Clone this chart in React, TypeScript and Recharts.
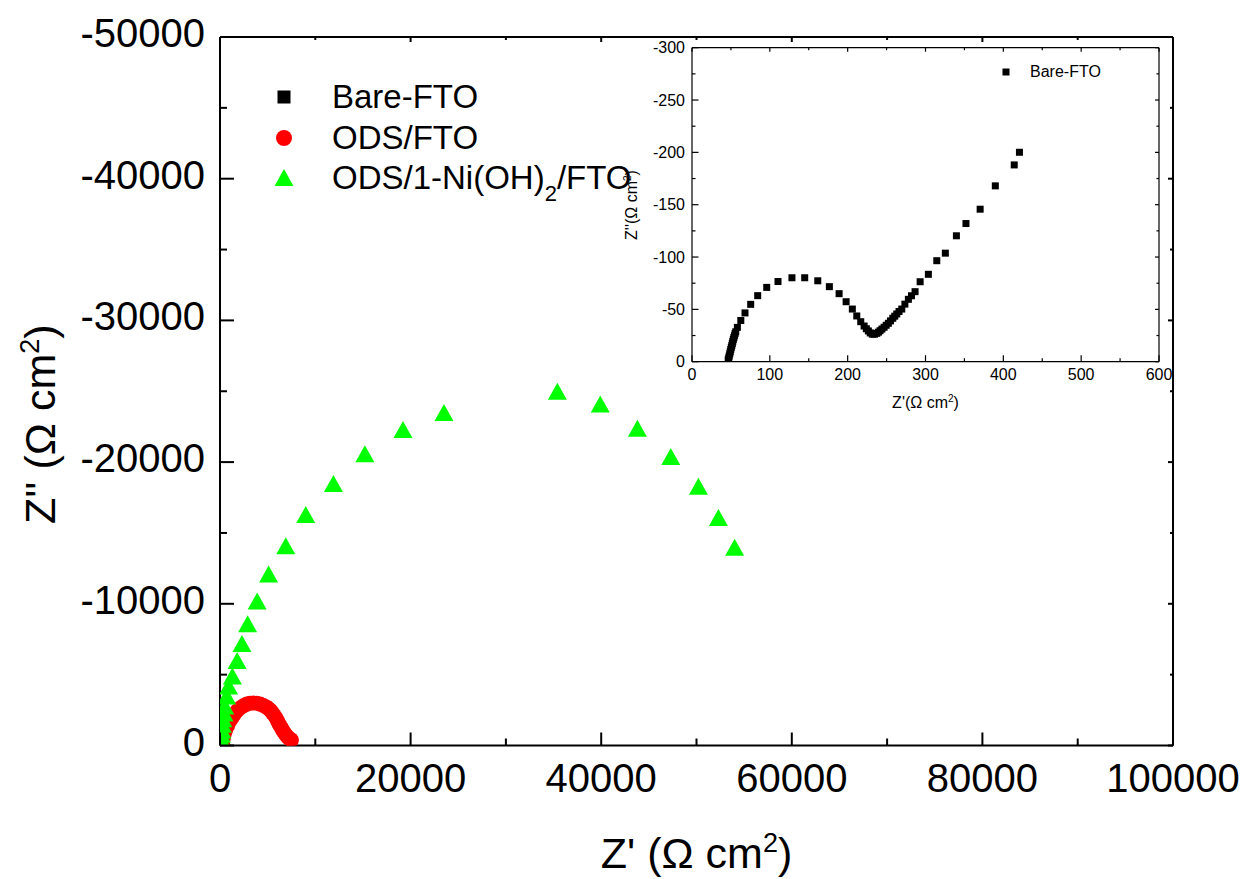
import React from 'react';
import { ScatterChart, Scatter, XAxis, YAxis, Legend } from 'recharts';

const FONT = '"Liberation Sans", Arial, Helvetica, sans-serif';

// Z' and Z'' (Ohm cm2)
const bareZre = [46.5, 47.2, 47.8, 48.5, 49.2, 49.8, 50.5, 51.2, 51.8, 52.4, 53.1, 53.8, 54.5, 55.3, 56.2, 58.3, 62.7, 68.1, 75.4, 84.4, 96.0, 110.5, 128.4, 144.8, 161.6, 176.5, 189.0, 198.0, 206.0, 211.7, 216.8, 221.1, 224.0, 226.6, 229.0, 231.7, 234.5, 237.4, 239.5, 241.6, 244.0, 246.8, 249.5, 252.3, 255.0, 258.0, 260.5, 263.1, 266.0, 269.5, 273.5, 278.0, 282.0, 286.6, 293.1, 303.7, 314.5, 325.5, 339.7, 352.0, 370.2, 389.7, 414.0, 420.7];
const bareZim = [-1.6, -3.5, -5.4, -7.5, -9.5, -11.6, -13.7, -15.6, -17.5, -19.4, -21.3, -23.0, -24.8, -26.7, -28.6, -32.8, -39.4, -46.6, -54.8, -63.1, -71.0, -76.6, -80.2, -80.2, -77.3, -71.7, -65.0, -57.3, -50.3, -43.7, -38.2, -34.1, -31.5, -29.4, -27.5, -26.3, -26.3, -27.1, -28.2, -29.6, -31.2, -32.9, -34.8, -36.7, -39.0, -41.5, -43.5, -45.6, -48.0, -50.3, -55.0, -59.6, -63.0, -66.9, -76.4, -83.5, -96.5, -103.7, -120.3, -132.0, -145.7, -168.0, -188.0, -200.1];

const odsZre = [250, 350, 450, 600, 800, 1000, 1250, 1500, 1800, 2100, 2450, 2800, 3150, 3500, 3850, 4200, 4500, 4800, 5050, 5300, 5500, 5700, 5900, 6050, 6200, 6350, 6500, 6650, 6800, 6950, 7100, 7250, 7400, 7500];
const odsZim = [-200, -500, -800, -1100, -1400, -1700, -1950, -2200, -2450, -2650, -2800, -2920, -2980, -3000, -2980, -2920, -2840, -2740, -2620, -2480, -2300, -2120, -1920, -1720, -1520, -1340, -1170, -1000, -850, -720, -600, -500, -420, -380];

const niZre = [80, 100, 150, 200, 250, 300, 420, 500, 700, 900, 1300, 1800, 2300, 2900, 3900, 5100, 6900, 9000, 11900, 15200, 19200, 23500, 35400, 39900, 43800, 47300, 50200, 52300, 54000];
const niZim = [-200, -400, -700, -1000, -1400, -1800, -2200, -2700, -3400, -4100, -4800, -5900, -7100, -8500, -10100, -12000, -14000, -16200, -18400, -20500, -22200, -23400, -24900, -24000, -22300, -20300, -18200, -16000, -13900];

// ticks (majors get labels)
const mainXTicks = [0, 10000, 20000, 30000, 40000, 50000, 60000, 70000, 80000, 90000, 100000];
const mainYTicks = [-50000, -45000, -40000, -35000, -30000, -25000, -20000, -15000, -10000, -5000, 0];
const insetXTicks = [0, 50, 100, 150, 200, 250, 300, 350, 400, 450, 500, 550, 600];
const insetYTicks = [-300, -275, -250, -225, -200, -175, -150, -125, -100, -75, -50, -25, 0];

const toPoints = (xs: number[], ys: number[]) => xs.map((x, i) => ({ x, y: ys[i] }));
const bareData = toPoints(bareZre, bareZim);
const odsData = toPoints(odsZre, odsZim);
const niData = toPoints(niZre, niZim);

// markers
const square = (s: number, color: string) => (p: any) => (
    <rect x={p.cx - s / 2} y={p.cy - s / 2} width={s} height={s} fill={color} />
);
const dot = (r: number, color: string) => (p: any) => <circle cx={p.cx} cy={p.cy} r={r} fill={color} />;
const triangle = (w: number, h: number, color: string) => (p: any) => (
    <polygon
        points={`${p.cx},${p.cy - h * 0.58} ${p.cx - w / 2},${p.cy + h * 0.42} ${p.cx + w / 2},${p.cy + h * 0.42}`}
        fill={color}
    />
);
const nothing = () => <g />;

type TickOpts = {
    side: 'bottom' | 'left' | 'top' | 'right';
    every: number;
    major: number;
    minor: number;
    stroke: number;
    font?: number;
    gap?: number;
    shift?: number;
};

// inward ticks, labels only on majors
const makeTick = (o: TickOpts) => (props: any) => {
    const { x, y, payload } = props;
    const v = payload.value;
    const isMajor = Math.abs(v % o.every) < 1e-6;
    const len = isMajor ? o.major : o.minor;
    let x2 = x;
    let y2 = y;
    if (o.side === 'bottom') y2 = y - len;
    if (o.side === 'top') y2 = y + len;
    if (o.side === 'left') x2 = x + len;
    if (o.side === 'right') x2 = x - len;
    const show = !!o.font && isMajor;
    return (
        <g>
            <line x1={x} y1={y} x2={x2} y2={y2} stroke="#000" strokeWidth={o.stroke} />
            {show && o.side === 'bottom' && (
                <text x={x} y={y + (o.gap || 0)} textAnchor="middle" fontFamily={FONT} fontSize={o.font} fill="#000">
                    {v}
                </text>
            )}
            {show && o.side === 'left' && (
                <text x={x - (o.gap || 0)} y={y + (o.shift || 0)} textAnchor="end" fontFamily={FONT} fontSize={o.font} fill="#000">
                    {v}
                </text>
            )}
        </g>
    );
};

const MainXTitle = (props: any) => {
    const vb = props.viewBox || { x: 220, y: 745.5, width: 953, height: 133.5 };
    return (
        <text x={vb.x + vb.width / 2} y={vb.y + 122} textAnchor="middle" fontFamily={FONT} fontSize={43} fill="#000">
            Z' (Ω cm<tspan dy={-16} fontSize={27}>2</tspan>
            <tspan dy={16}>)</tspan>
        </text>
    );
};

const MainYTitle = (props: any) => {
    const vb = props.viewBox || { x: 0, y: 37, width: 220, height: 708.5 };
    const cx = vb.x + 55;
    const cy = vb.y + vb.height / 2 + 33;
    return (
        <text transform={`rotate(-90 ${cx} ${cy})`} x={cx} y={cy} textAnchor="middle" fontFamily={FONT} fontSize={43} fill="#000">
            Z'' (Ω cm<tspan dy={-16} fontSize={27}>2</tspan>
            <tspan dy={16}>)</tspan>
        </text>
    );
};

const InsetXTitle = (props: any) => {
    const vb = props.viewBox || { x: 72, y: 331.7, width: 467, height: 68.3 };
    return (
        <text x={vb.x + vb.width / 2} y={vb.y + 46} textAnchor="middle" fontFamily={FONT} fontSize={16} fill="#000">
            Z'(Ω cm<tspan dy={-6} fontSize={10}>2</tspan>
            <tspan dy={6}>)</tspan>
        </text>
    );
};

const InsetYTitle = (props: any) => {
    const vb = props.viewBox || { x: 0, y: 17.7, width: 72, height: 314 };
    const cx = vb.x + 17;
    const cy = 175;
    return (
        <text transform={`rotate(-90 ${cx} ${cy})`} x={cx} y={cy} textAnchor="middle" fontFamily={FONT} fontSize={16} fill="#000">
            Z''(Ω cm<tspan dy={-6} fontSize={10}>2</tspan>
            <tspan dy={6}>)</tspan>
        </text>
    );
};

const MainLegend = () => (
    <div style={{ fontFamily: FONT, fontSize: 33, color: '#000', lineHeight: 'normal' }}>
        <div style={{ display: 'flex', alignItems: 'center', height: 40.5 }}>
            <svg width={28} height={24}>
                <rect x={7.5} y={5.5} width={13} height={13} fill="#000" />
            </svg>
            <span style={{ marginLeft: 34, whiteSpace: 'nowrap' }}>Bare-FTO</span>
        </div>
        <div style={{ display: 'flex', alignItems: 'center', height: 40.5 }}>
            <svg width={28} height={24}>
                <circle cx={14} cy={12} r={8} fill="#ff0000" />
            </svg>
            <span style={{ marginLeft: 34, whiteSpace: 'nowrap' }}>ODS/FTO</span>
        </div>
        <div style={{ display: 'flex', alignItems: 'center', height: 40.5 }}>
            <svg width={28} height={24}>
                <polygon points="14,3 4.5,20 23.5,20" fill="#00ff00" />
            </svg>
            <span style={{ marginLeft: 34, whiteSpace: 'nowrap' }}>
                ODS/1-Ni(OH)<span style={{ fontSize: 22, position: 'relative', top: 12 }}>2</span>/FTO
            </span>
        </div>
    </div>
);

const InsetLegend = () => (
    <div style={{ fontFamily: FONT, fontSize: 16, color: '#000', display: 'flex', alignItems: 'center', height: 20 }}>
        <svg width={14} height={14}>
            <rect x={3.5} y={3.5} width={7} height={7} fill="#000" />
        </svg>
        <span style={{ marginLeft: 17, whiteSpace: 'nowrap' }}>Bare-FTO</span>
    </div>
);

const MainChart = () => (
    <ScatterChart width={1243} height={879} margin={{ top: 36, right: 69, bottom: 0, left: 0 }}>
        {/* Bare-FTO sits on the mirror axes (same ranges) so the frame axes get drawn */}
        <Scatter name="Bare-FTO" data={bareData} xAxisId="top" yAxisId="right" fill="#000" shape={square(12, '#000')} isAnimationActive={false} />
        <Scatter name="ODS/FTO" data={odsData} fill="#ff0000" shape={dot(7.5, '#ff0000')} isAnimationActive={false} />
        <Scatter name="ODS/1-Ni(OH)2/FTO" data={niData} fill="#00ff00" shape={triangle(19, 17, '#00ff00')} isAnimationActive={false} />
        <XAxis
            dataKey="x"
            type="number"
            domain={[0, 100000]}
            allowDataOverflow
            ticks={mainXTicks}
            interval={0}
            height={133.5}
            tickSize={0}
            tickMargin={0}
            tickLine={false}
            axisLine={{ stroke: '#000', strokeWidth: 2 }}
            tick={makeTick({ side: 'bottom', every: 20000, major: 13, minor: 7, stroke: 2, font: 40, gap: 46.5 })}
            label={{ content: MainXTitle }}
        />
        <YAxis
            dataKey="y"
            type="number"
            domain={[-50000, 0]}
            reversed
            allowDataOverflow
            ticks={mainYTicks}
            interval={0}
            width={220}
            tickSize={0}
            tickMargin={0}
            tickLine={false}
            axisLine={{ stroke: '#000', strokeWidth: 2 }}
            tick={makeTick({ side: 'left', every: 10000, major: 14, minor: 7, stroke: 2, font: 40, gap: 15, shift: 10 })}
            label={{ content: MainYTitle }}
        />
        <XAxis
            xAxisId="top"
            orientation="top"
            dataKey="x"
            type="number"
            domain={[0, 100000]}
            allowDataOverflow
            ticks={mainXTicks}
            interval={0}
            height={1}
            tickSize={0}
            tickMargin={0}
            tickLine={false}
            axisLine={{ stroke: '#000', strokeWidth: 2 }}
            tick={makeTick({ side: 'top', every: 20000, major: 5, minor: 3, stroke: 2 })}
        />
        <YAxis
            yAxisId="right"
            orientation="right"
            dataKey="y"
            type="number"
            domain={[-50000, 0]}
            reversed
            allowDataOverflow
            ticks={mainYTicks}
            interval={0}
            width={1}
            tickSize={0}
            tickMargin={0}
            tickLine={false}
            axisLine={{ stroke: '#000', strokeWidth: 2 }}
            tick={makeTick({ side: 'right', every: 10000, major: 5, minor: 3, stroke: 2 })}
        />
        <Legend
            layout="vertical"
            align="center"
            verticalAlign="middle"
            content={() => <MainLegend />}
            wrapperStyle={{ left: 270, top: 76.75, width: 420, height: 122 }}
        />
    </ScatterChart>
);

const InsetChart = () => (
    <ScatterChart width={560} height={400} margin={{ top: 16.7, right: 20, bottom: 0, left: 0 }}>
        <Scatter name="Bare-FTO" data={bareData} fill="#000" shape={square(7, '#000')} isAnimationActive={false} />
        {/* same points on the mirror axes, drawn as nothing, so the frame axes get drawn */}
        <Scatter name="frame" data={bareData} xAxisId="top" yAxisId="right" legendType="none" shape={nothing} isAnimationActive={false} />
        <XAxis
            dataKey="x"
            type="number"
            domain={[0, 600]}
            allowDataOverflow
            ticks={insetXTicks}
            interval={0}
            height={68.3}
            tickSize={0}
            tickMargin={0}
            tickLine={false}
            axisLine={{ stroke: '#000', strokeWidth: 1.2 }}
            tick={makeTick({ side: 'bottom', every: 100, major: 6.5, minor: 3.5, stroke: 1.2, font: 16, gap: 18.5 })}
            label={{ content: InsetXTitle }}
        />
        <YAxis
            dataKey="y"
            type="number"
            domain={[-300, 0]}
            reversed
            allowDataOverflow
            ticks={insetYTicks}
            interval={0}
            width={72}
            tickSize={0}
            tickMargin={0}
            tickLine={false}
            axisLine={{ stroke: '#000', strokeWidth: 1.2 }}
            tick={makeTick({ side: 'left', every: 50, major: 6.5, minor: 3.5, stroke: 1.2, font: 16, gap: 7, shift: 5.5 })}
            label={{ content: InsetYTitle }}
        />
        <XAxis
            xAxisId="top"
            orientation="top"
            dataKey="x"
            type="number"
            domain={[0, 600]}
            allowDataOverflow
            ticks={insetXTicks}
            interval={0}
            height={1}
            tickSize={0}
            tickMargin={0}
            tickLine={false}
            axisLine={{ stroke: '#000', strokeWidth: 1.2 }}
            tick={makeTick({ side: 'top', every: 100, major: 4, minor: 2.5, stroke: 1.2 })}
        />
        <YAxis
            yAxisId="right"
            orientation="right"
            dataKey="y"
            type="number"
            domain={[-300, 0]}
            reversed
            allowDataOverflow
            ticks={insetYTicks}
            interval={0}
            width={1}
            tickSize={0}
            tickMargin={0}
            tickLine={false}
            axisLine={{ stroke: '#000', strokeWidth: 1.2 }}
            tick={makeTick({ side: 'right', every: 50, major: 4, minor: 2.5, stroke: 1.2 })}
        />
        <Legend
            layout="vertical"
            align="center"
            verticalAlign="middle"
            content={() => <InsetLegend />}
            wrapperStyle={{ left: 379, top: 32, width: 150, height: 20 }}
        />
    </ScatterChart>
);

export default function App() {
    return (
        <div style={{ position: 'absolute', left: 0, top: 0, width: 1243, height: 879, background: '#fff' }}>
            <MainChart />
            <div style={{ position: 'absolute', left: 620, top: 30 }}>
                <InsetChart />
            </div>
        </div>
    );
}
